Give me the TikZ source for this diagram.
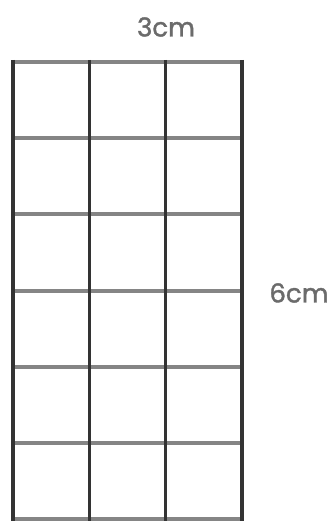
\documentclass[tikz,border=0pt]{standalone}
\usepackage{fontspec}
\setmainfont{Poppins}
\newfontfamily\lblfont{Poppins}[FakeBold=1.5]
\begin{document}
\begin{tikzpicture}[x=1pt,y=-1pt,
  hline/.style={draw=black!48,line width=4pt},
  vline/.style={draw=black!80,line width=3.5pt},
  lbl/.style={font=\lblfont\fontsize{26}{28}\selectfont,text=black!58,inner sep=0pt}]
\useasboundingbox (0,0) rectangle (335,524);
\foreach \i in {0,...,6} {
  \draw[hline] (11,{62+76.2*\i}) -- (244,{62+76.2*\i});
}
\foreach \j in {0,...,3} {
  \draw[vline] ({13+76.3*\j},60) -- ({13+76.3*\j},521);
}
\node[lbl] (top) at (166,27) {3cm};
\node[lbl] (side) at (299,293) {6cm};
\end{tikzpicture}
\end{document}
